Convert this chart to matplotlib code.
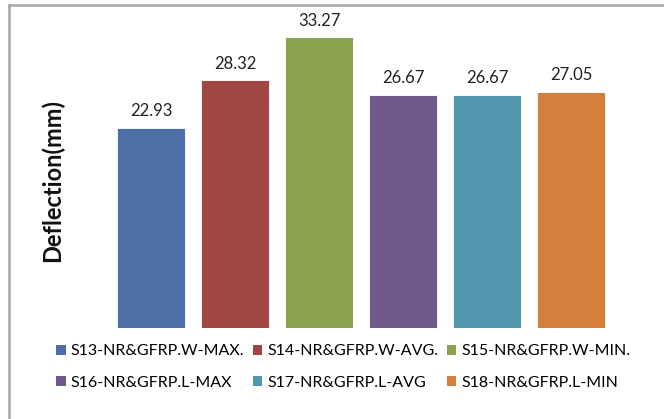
import matplotlib
matplotlib.use("Agg")
import matplotlib.pyplot as plt
from matplotlib.lines import Line2D
from matplotlib.patches import Patch

plt.rcParams['font.family'] = ['Lato', 'DejaVu Sans']

# Specimen series and measured deflections
series = ["S13-NR&GFRP.W-MAX.", "S14-NR&GFRP.W-AVG.", "S15-NR&GFRP.W-MIN.",
          "S16-NR&GFRP.L-MAX", "S17-NR&GFRP.L-AVG", "S18-NR&GFRP.L-MIN"]
deflection = [22.93, 28.32, 33.27, 26.67, 26.67, 27.05]
colors = ["#4E6FA6", "#A04643", "#8BA250", "#72598D", "#5297AE", "#D4803C"]

W, H = 664, 419
fig = plt.figure(figsize=(W / 100, H / 100), dpi=100)

# plot area placed in pixel terms
left_px, right_px, bottom_px, top_px = 100, 622, 328, 22
ax = fig.add_axes([left_px / W, (H - bottom_px) / H,
                   (right_px - left_px) / W, (bottom_px - top_px) / H])

xs = list(range(len(series)))
bars = ax.bar(xs, deflection, width=0.82, color=colors,
              edgecolor="#ffffff", linewidth=0.6)
for x, v in zip(xs, deflection):
    ax.annotate(f"{v:.2f}", (x, v), xytext=(0, 6), textcoords="offset points",
                ha="center", va="bottom", fontsize=12, color="#222222")

ax.set_xlim(-0.607, 5.607)
ax.set_ylim(0, 35)
ax.axis("off")

fig.text(52 / W, 1 - 180 / H, "Deflection(mm)", rotation=90, ha="center",
         va="center", fontsize=17, fontweight="bold", color="#111111")

# legend laid out row-wise in three columns
handles = [Patch(facecolor=c, edgecolor="none") for c in colors]
order = [0, 3, 1, 4, 2, 5]
fig.legend([handles[i] for i in order], [series[i] for i in order],
           ncol=3, loc="center left", bbox_to_anchor=(56 / W, 1 - 367 / H),
           frameon=False, fontsize=11.5, handlelength=0.6, handleheight=0.6,
           handletextpad=0.3, columnspacing=0.55, labelspacing=1.1,
           borderpad=0, borderaxespad=0)

# chart frame (top and left edges visible)
fig.add_artist(Line2D([9 / W, 1], [1 - 5 / H, 1 - 5 / H], color="#a6a6a6",
                      linewidth=1.8, transform=fig.transFigure))
fig.add_artist(Line2D([9 / W, 9 / W], [0, 1 - 5 / H], color="#a6a6a6",
                      linewidth=1.8, transform=fig.transFigure))

fig.savefig("out.png", dpi=100, facecolor="white")
